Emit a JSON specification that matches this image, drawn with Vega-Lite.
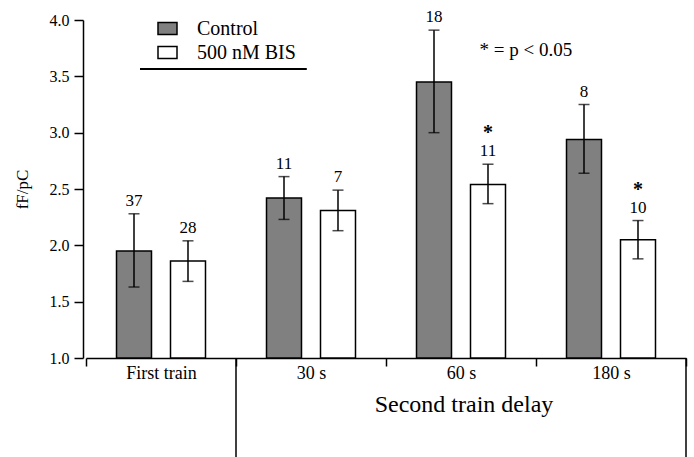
{
  "$schema": "https://vega.github.io/schema/vega-lite/v6.json",
  "width": 600,
  "height": 338,
  "autosize": {"type": "none"},
  "padding": {"left": 86, "top": 20, "right": 8, "bottom": 99},
  "background": "white",
  "config": {"view": {"stroke": null}, "font": "Liberation Serif"},
  "datasets": {
    "bars": [
      {"group": "First train", "cond": "Control", "mean": 1.95, "lo": 1.63, "hi": 2.28, "n": "37", "star": ""},
      {"group": "First train", "cond": "500 nM BIS", "mean": 1.86, "lo": 1.68, "hi": 2.04, "n": "28", "star": ""},
      {"group": "30 s", "cond": "Control", "mean": 2.42, "lo": 2.23, "hi": 2.61, "n": "11", "star": ""},
      {"group": "30 s", "cond": "500 nM BIS", "mean": 2.31, "lo": 2.13, "hi": 2.49, "n": "7", "star": ""},
      {"group": "60 s", "cond": "Control", "mean": 3.45, "lo": 3.0, "hi": 3.91, "n": "18", "star": ""},
      {"group": "60 s", "cond": "500 nM BIS", "mean": 2.54, "lo": 2.37, "hi": 2.72, "n": "11", "star": "*"},
      {"group": "180 s", "cond": "Control", "mean": 2.94, "lo": 2.64, "hi": 3.25, "n": "8", "star": ""},
      {"group": "180 s", "cond": "500 nM BIS", "mean": 2.05, "lo": 1.88, "hi": 2.22, "n": "10", "star": "*"}
    ]
  },
  "layer": [
    {
      "data": {"name": "bars"},
      "encoding": {
        "x": {
          "field": "group", "type": "nominal",
          "sort": ["First train", "30 s", "60 s", "180 s"],
          "scale": {"paddingInner": 0, "paddingOuter": 0},
          "axis": {
            "title": null, "tickBand": "extent", "tickSize": 8, "labelFontSize": 18,
            "labelPadding": -2, "labelAngle": 0, "domainColor": "black", "domainWidth": 1.5,
            "tickColor": "black", "tickWidth": 1.5, "labelColor": "black", "labelFont": "Liberation Serif"
          }
        },
        "xOffset": {
          "field": "cond", "type": "nominal",
          "sort": ["Control", "500 nM BIS"],
          "scale": {"domain": ["Control", "500 nM BIS"], "paddingInner": 0.352, "paddingOuter": 0.565}
        }
      },
      "layer": [
        {
          "mark": {"type": "bar", "stroke": "black", "strokeWidth": 1.5},
          "encoding": {
            "y": {
              "field": "mean", "type": "quantitative",
              "scale": {"domain": [1, 4], "nice": false, "zero": false},
              "axis": {
                "title": "fF/pC", "values": [1, 1.5, 2, 2.5, 3, 3.5, 4], "format": ".1f",
                "grid": false, "offset": 3, "tickSize": 9, "labelFontSize": 16, "titleFontSize": 17,
                "titleFontWeight": "normal", "domainColor": "black", "tickColor": "black",
                "domainWidth": 1.5, "tickWidth": 1.5, "labelPadding": 5, "titlePadding": 18,
                "labelColor": "black", "titleColor": "black", "labelFont": "Liberation Serif", "titleFont": "Liberation Serif"
              }
            },
            "y2": {"datum": 1},
            "fill": {
              "field": "cond", "type": "nominal",
              "scale": {"domain": ["Control", "500 nM BIS"], "range": ["#808080", "#ffffff"]},
              "legend": {
                "orient": "none", "legendX": 71, "legendY": -2, "title": null,
                "symbolType": "M-1,-0.63H1V0.63H-1Z", "symbolSize": 361,
                "symbolStrokeColor": "black", "symbolStrokeWidth": 1.5,
                "labelFont": "Liberation Serif", "labelFontSize": 20, "labelColor": "black",
                "labelOffset": 19, "rowPadding": 3, "padding": 0
              }
            }
          }
        },
        {
          "mark": {"type": "rule", "color": "black", "strokeWidth": 1.5},
          "encoding": {
            "y": {"field": "lo", "type": "quantitative", "scale": {"domain": [1, 4], "nice": false, "zero": false}},
            "y2": {"field": "hi"}
          }
        },
        {
          "mark": {"type": "tick", "color": "black", "size": 11, "thickness": 1.5},
          "encoding": {"y": {"field": "hi", "type": "quantitative", "scale": {"domain": [1, 4], "nice": false, "zero": false}}}
        },
        {
          "mark": {"type": "tick", "color": "black", "size": 11, "thickness": 1.5},
          "encoding": {"y": {"field": "lo", "type": "quantitative", "scale": {"domain": [1, 4], "nice": false, "zero": false}}}
        },
        {
          "mark": {"type": "text", "font": "Liberation Serif", "fontSize": 17, "color": "black", "baseline": "alphabetic", "dy": -8},
          "encoding": {
            "y": {"field": "hi", "type": "quantitative", "scale": {"domain": [1, 4], "nice": false, "zero": false}},
            "text": {"field": "n"}
          }
        },
        {
          "mark": {"type": "text", "font": "Liberation Serif", "fontSize": 20, "fontWeight": "bold", "color": "black", "baseline": "alphabetic", "dy": -25},
          "encoding": {
            "y": {"field": "hi", "type": "quantitative", "scale": {"domain": [1, 4], "nice": false, "zero": false}},
            "text": {"field": "star"}
          }
        }
      ]
    },
    {
      "data": {"values": [{}]},
      "layer": [
        {
          "mark": {"type": "rule", "color": "black", "strokeWidth": 1.5},
          "encoding": {
            "x": {"datum": 0.25, "type": "quantitative", "scale": {"domain": [0, 1], "nice": false, "zero": false}, "axis": null},
            "y": {"datum": 1, "type": "quantitative", "scale": {"domain": [1, 4], "nice": false, "zero": false}},
            "y2": {"datum": 0.1}
          }
        },
        {
          "mark": {"type": "rule", "color": "black", "strokeWidth": 1.5},
          "encoding": {
            "x": {"datum": 1, "type": "quantitative", "scale": {"domain": [0, 1], "nice": false, "zero": false}, "axis": null},
            "y": {"datum": 1, "type": "quantitative", "scale": {"domain": [1, 4], "nice": false, "zero": false}},
            "y2": {"datum": 0.1}
          }
        },
        {
          "mark": {"type": "rule", "color": "black", "strokeWidth": 2},
          "encoding": {
            "x": {"datum": 0.09, "type": "quantitative", "scale": {"domain": [0, 1], "nice": false, "zero": false}, "axis": null},
            "x2": {"datum": 0.368},
            "y": {"datum": 3.565, "type": "quantitative", "scale": {"domain": [1, 4], "nice": false, "zero": false}}
          }
        },
        {
          "mark": {"type": "text", "text": "* = p < 0.05", "font": "Liberation Serif", "fontSize": 19, "color": "black", "baseline": "middle", "align": "center"},
          "encoding": {
            "x": {"datum": 0.733, "type": "quantitative", "scale": {"domain": [0, 1], "nice": false, "zero": false}, "axis": null},
            "y": {"datum": 3.73, "type": "quantitative", "scale": {"domain": [1, 4], "nice": false, "zero": false}}
          }
        },
        {
          "mark": {"type": "text", "text": "Second train delay", "font": "Liberation Serif", "fontSize": 24, "color": "black", "baseline": "middle", "align": "center"},
          "encoding": {
            "x": {"datum": 0.63, "type": "quantitative", "scale": {"domain": [0, 1], "nice": false, "zero": false}, "axis": null},
            "y": {"datum": 0.583, "type": "quantitative", "scale": {"domain": [1, 4], "nice": false, "zero": false}}
          }
        }
      ]
    }
  ],
  "resolve": {"scale": {"x": "independent"}}
}
